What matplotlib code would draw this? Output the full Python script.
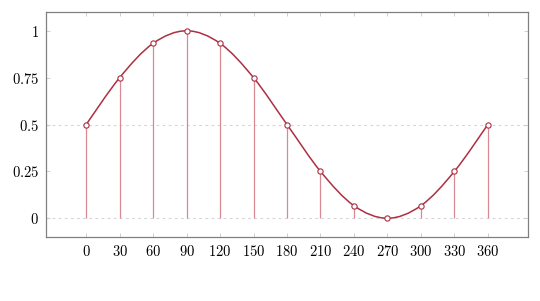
import numpy as np
import matplotlib
matplotlib.use("Agg")
from matplotlib import pyplot as plt
from matplotlib.path import Path
from matplotlib.patches import PathPatch

plt.rcParams["mathtext.fontset"] = "cm"
plt.rcParams["font.family"] = "serif"

#sample points
angles = [0, 30, 60, 90, 120, 150, 180, 210, 240, 270, 300, 330, 360]
values = [0.5, 0.75, 0.933, 1.0, 0.933, 0.75, 0.5, 0.25, 0.067, 0.0, 0.067, 0.25, 0.5]
xtick_labels = ["0", "30", "60", "90", "120", "150", "180", "210", "240", "270", "300", "330", "360"]
yticks = [0, 0.25, 0.5, 0.75, 1]
ytick_labels = ["0", "0.25", "0.5", "0.75", "1"]

LINE_COLOR = "#ad2f42"
STEM_COLOR = "#d88a92"
AXIS_COLOR = "#808080"

fig = plt.figure(figsize=(5.4, 3.01), dpi=100)
ax = fig.add_axes([0.0852, 0.2126, 0.8926, 0.7474])

#dashed helper lines
for yv in [0, 0.5]:
    ax.axhline(yv, color="#d6d6d6", linestyle=(0, (2.5, 3)), linewidth=0.8, zorder=1)

#stems
ax.vlines(angles, 0, values, color=STEM_COLOR, linewidth=0.9, zorder=2)

#smooth curve through the points (cardinal spline drawn as bezier path)
pts = np.column_stack([angles, values])
verts = [pts[0]]
codes = [Path.MOVETO]
t = 0.5 / 3.0
for i in range(len(pts) - 1):
    p0 = pts[i - 1] if i > 0 else pts[i]
    p1 = pts[i]
    p2 = pts[i + 1]
    p3 = pts[i + 2] if i + 2 < len(pts) else pts[i + 1]
    c1 = p1 + (p2 - p0) * t
    c2 = p2 - (p3 - p1) * t
    verts += [c1, c2, p2]
    codes += [Path.CURVE4] * 3
curve = PathPatch(Path(verts, codes), facecolor="none", edgecolor=LINE_COLOR,
                  linewidth=1.1, zorder=3)
ax.add_patch(curve)

ax.plot(angles, values, linestyle="none", marker="o", markersize=3.8,
        markerfacecolor="white", markeredgecolor=LINE_COLOR, markeredgewidth=0.8, zorder=4)

ax.set_xlim(-36, 396)
ax.set_ylim(-0.1, 1.1)
ax.set_xticks(angles)
ax.set_xticklabels([f"${s}$" for s in xtick_labels], fontsize=10.5)
ax.set_yticks(yticks)
ax.set_yticklabels([f"${s}$" for s in ytick_labels], fontsize=10.5)

ax.tick_params(direction="in", length=3, width=0.6, color="#c8c8c8",
               top=True, right=True, pad=5)
for sp in ax.spines.values():
    sp.set_color(AXIS_COLOR)
    sp.set_linewidth(0.9)

fig.savefig("out.png", dpi=100)
